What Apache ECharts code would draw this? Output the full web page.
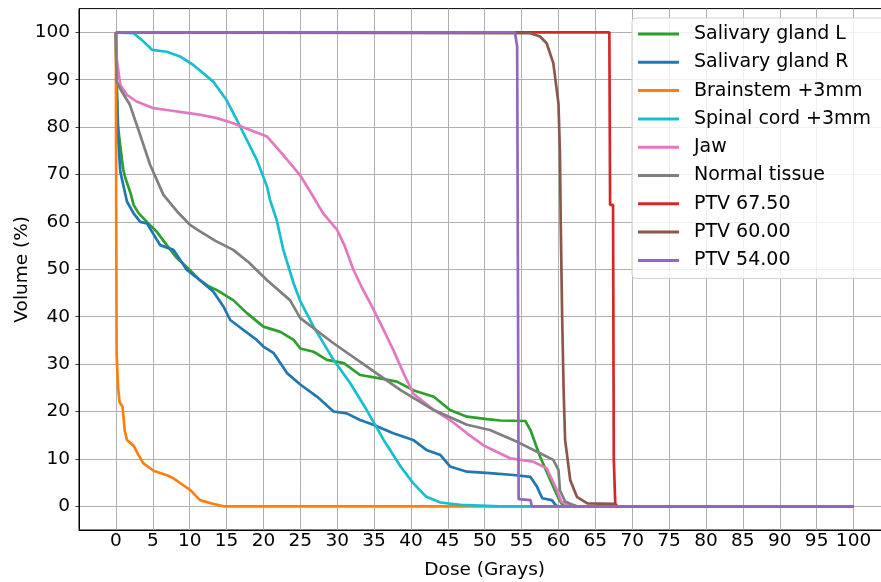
<!DOCTYPE html>
<html>
<head>
    <meta charset="utf-8">
    <title>DVH</title>
    <script src="https://cdn.jsdelivr.net/npm/echarts@6/dist/echarts.min.js"></script>
    <style>
        body { margin: 0; background: #fff; }
        #main { width: 881px; height: 582px; }
    </style>
</head>
<body>
<div id="main"></div>
<script type="text/javascript">
    // tick labels
    var doseTicks = [];
    for (var t = -5; t <= 105; t += 5) doseTicks.push(t);
    var volTicks = [0, 10, 20, 30, 40, 50, 60, 70, 80, 90, 100];

    var names = ['Salivary gland L', 'Salivary gland R', 'Brainstem +3mm', 'Spinal cord +3mm',
        'Jaw', 'Normal tissue', 'PTV 67.50', 'PTV 60.00', 'PTV 54.00'];
    var colors = ['#2ca02c', '#1f77b4', '#ff7f0e', '#17becf', '#e377c2', '#7f7f7f', '#d62728', '#8c564b', '#9467bd'];

    // [dose (Gy), volume (%)]
    var salivaryL = [[0, 100], [0.1, 90], [0.3, 80], [0.6, 76], [1.0, 71], [1.3, 69.2], [2.0, 66], [2.4, 63.6], [3.1, 61.8],
        [4.2, 60], [5.5, 58], [6.9, 55.1], [8.2, 52.5], [9.6, 50.5], [11.4, 47.7], [12.5, 46.5], [13.7, 45.6], [15.9, 43.5],
        [17.8, 40.7], [20, 37.9], [22.3, 36.8], [24.1, 35.1], [25, 33.3], [26.8, 32.6], [28.6, 30.9], [30.9, 30.2],
        [33.1, 27.7], [35.8, 27.0], [38.1, 26.3], [40.3, 24.5], [43.1, 23.1], [45.3, 20.3], [47.6, 18.9], [50.3, 18.4],
        [52.1, 18.1], [55.5, 18], [56.2, 16.1], [57.5, 10.5], [58.9, 5.5], [60, 1.7], [60.4, 0.6], [61, 0], [100, 0]];
    var salivaryR = [[0, 100], [0.1, 88], [0.3, 78], [0.6, 70.6], [1.5, 64.3], [2.4, 61.8], [3.3, 60], [4.2, 59.7], [6, 55.1],
        [7.8, 54.1], [9.6, 49.9], [11.4, 47.7], [13.2, 45.3], [14.6, 42.1], [15.5, 39.3], [17.3, 37.2], [19.1, 35.1],
        [20, 33.7], [21.4, 32.3], [23.2, 28.1], [25, 25.7], [27.3, 23.1], [29.5, 20], [31.3, 19.6], [33.1, 18.2],
        [34.9, 17.2], [37.6, 15.4], [40.3, 14], [42.1, 11.9], [44, 10.8], [45.3, 8.4], [47.6, 7.3], [50.7, 7.0],
        [53.9, 6.6], [56.2, 6.2], [57.1, 4.1], [57.8, 1.7], [59.1, 1.3], [59.6, 0.3], [59.9, 0], [100, 0]];
    var brainstem = [[0, 100], [0.05, 60], [0.1, 32], [0.3, 25], [0.5, 22], [0.9, 21], [1.2, 16], [1.5, 14], [2.4, 12.8],
        [3, 11], [3.7, 9.1], [5.1, 7.5], [7, 6.5], [7.8, 5.9], [9, 4.6], [10.1, 3.4], [11.4, 1.3], [13, 0.6], [14.6, 0], [100, 0]];
    var spinalCord = [[0, 100], [2.4, 99.8], [3.5, 98.4], [4.9, 96.3], [6.9, 95.9], [8.7, 94.9], [10.5, 93.1],
        [13.2, 89.6], [15.0, 85.7], [16.4, 81.5], [17.3, 78.7], [19.1, 73.1], [20.5, 67.4], [20.9, 64.6], [21.8, 60.4],
        [22.7, 54.1], [24.1, 47], [25, 43.3], [26.8, 37.9], [29.5, 30.9], [31.8, 25.9], [34, 20.3], [36.3, 14],
        [38.6, 8.4], [40.3, 4.9], [42.1, 2.0], [44, 0.8], [46.7, 0.3], [50.3, 0.1], [52, 0], [100, 0]];
    var jaw = [[0, 100], [0.1, 94.5], [0.6, 88.9], [1.5, 86.8], [2.8, 85.4], [5.1, 84], [6.9, 83.6], [10.1, 82.9],
        [11.4, 82.6], [13.7, 81.9], [15.9, 80.8], [18.2, 79.4], [20.5, 78.0], [22.7, 74.1], [23.6, 72.4], [25, 69.8],
        [26.5, 66], [28.1, 61.8], [30, 58.3], [31, 55], [32.2, 49.9], [33.4, 46], [34.5, 42.8], [36.3, 37.2], [37.6, 33],
        [39.0, 28.1], [40.3, 23.8], [43.1, 20.3], [45.3, 18.2], [47.6, 15.4], [49.8, 12.9], [50.7, 12.2], [53.5, 10.1],
        [56.6, 9.4], [58.4, 8.0], [59.8, 3.4], [60.4, 1.0], [61.1, 0.3], [61.8, 0], [100, 0]];
    var normalTissue = [[0, 100], [0.1, 89.6], [0.8, 87.5], [1.9, 84.7], [3.3, 78.3], [4.65, 72], [6.45, 65.7],
        [8.3, 62.2], [10.1, 59.3], [11.4, 58], [13.5, 56], [15.9, 54.1], [18, 51.5], [20.5, 47.7], [23.6, 43.5],
        [25, 39.7], [29.5, 34.4], [34, 29.5], [38.6, 24.5], [43.1, 20.3], [47.6, 17.2], [50.7, 16.1], [54.4, 13.6],
        [57.1, 11.5], [59.3, 9.8], [60, 7.7], [60.2, 3.4], [60.9, 1.0], [62, 0.3], [62.5, 0], [100, 0]];
    var ptv6750 = [[0, 100], [66.9, 100], [67.0, 63.6], [67.4, 63.6], [67.5, 10], [67.7, 0.5], [68, 0], [100, 0]];
    var ptv6000 = [[0, 100], [56.2, 99.8], [57.5, 99.1], [58.4, 97.7], [59.3, 93.5], [60, 85], [60.2, 74.5],
        [60.3, 60.4], [60.5, 40], [60.7, 24.5], [60.9, 14], [61.6, 5.5], [62.5, 2], [63.9, 0.6], [67.5, 0.5],
        [67.7, 0], [100, 0]];
    var ptv5400 = [[0, 100], [54.1, 100], [54.4, 97], [54.5, 50], [54.6, 1.5], [54.8, 1.3], [56.2, 1.3], [56.4, 0], [100, 0]];

    var allData = [salivaryL, salivaryR, brainstem, spinalCord, jaw, normalTissue, ptv6750, ptv6000, ptv5400];

    var font = 'DejaVu Sans';
    var myChart = echarts.init(document.getElementById('main'), null, {renderer: 'canvas'});

    var series = [];
    for (var i = 0; i < names.length; i++) {
        series.push({
            name: names[i],
            type: 'line',
            data: allData[i],
            showSymbol: false,
            symbol: 'none',
            color: colors[i],
            lineStyle: {width: 2.7, color: colors[i]},
            animation: false
        });
    }

    var option = {
        animation: false,
        backgroundColor: '#fff',
        grid: {
            left: 79, top: 8.6, width: 811.4, height: 521.4,
            outerBoundsMode: 'none', containLabel: false,
            show: true, borderColor: '#000', borderWidth: 1, backgroundColor: 'transparent'
        },
        xAxis: {
            type: 'value',
            min: doseTicks[0], max: doseTicks[doseTicks.length - 1], interval: 5,
            name: 'Dose (Grays)', nameLocation: 'middle', nameGap: 31,
            nameTextStyle: {fontFamily: font, fontSize: 18.5, color: '#000'},
            axisLine: {show: true, onZero: false, lineStyle: {color: '#000', width: 1}},
            axisTick: {show: false},
            axisLabel: {
                fontFamily: font, fontSize: 18.5, color: '#000', margin: 2,
                formatter: function (v) { return (v < 0 || v > 100) ? '' : v; }
            },
            splitLine: {show: true, lineStyle: {color: '#b0b0b0', width: 1}}
        },
        yAxis: {
            type: 'value',
            min: -5, max: 105,
            name: 'Volume (%)', nameLocation: 'middle', nameGap: 47, nameMoveOverlap: false,
            nameTextStyle: {fontFamily: font, fontSize: 18.5, color: '#000'},
            axisLine: {show: true, onZero: false, lineStyle: {color: '#000', width: 1}},
            axisTick: {show: true, length: 3.5, customValues: volTicks, lineStyle: {color: '#333', width: 1}},
            axisLabel: {fontFamily: font, fontSize: 18.5, color: '#000', margin: 9, customValues: volTicks},
            splitLine: {show: true, lineStyle: {color: '#b0b0b0', width: 1}}
        },
        legend: {
            orient: 'vertical',
            left: 632, top: 18,
            padding: [6, 14, 8, 6],
            itemWidth: 41, itemHeight: 3, itemGap: 8.3,
            icon: 'rect',
            backgroundColor: 'rgba(255,255,255,0.8)',
            borderColor: '#d0d0d0', borderWidth: 1, borderRadius: 4,
            textStyle: {fontFamily: font, fontSize: 19, color: '#000', lineHeight: 20, padding: [0, 0, 0, 10]},
            data: names
        },
        series: series
    };
    myChart.setOption(option);
</script>
</body>
</html>
